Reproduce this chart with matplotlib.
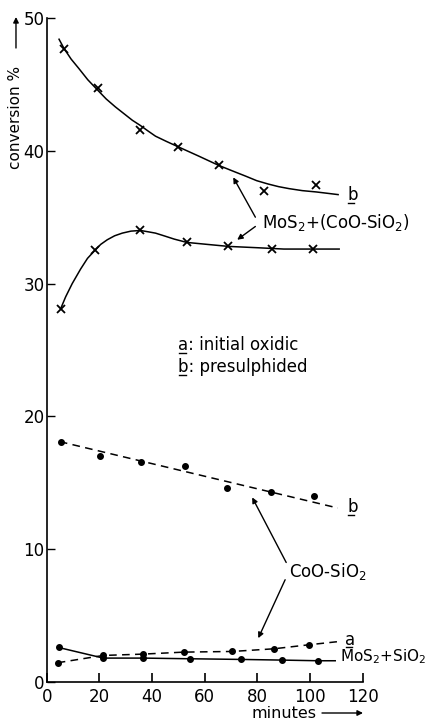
import matplotlib
matplotlib.use('Agg')
import matplotlib.pyplot as plt

plt.rcParams['font.family'] = ['DejaVu Sans']
plt.rcParams['mathtext.fontset'] = 'dejavusans'

# Data (minutes, conversion %)
# MoS2+(CoO-SiO2), presulphided (b)
t_mix_b = [6.6, 19.4, 35.6, 49.9, 65.3, 82.6, 102.3]
conv_mix_b = [47.7, 44.7, 41.6, 40.3, 38.9, 37.0, 37.4]
curve_t_mix_b = [4.7, 6.6, 9.3, 12.2, 15.6, 19.2, 22.6, 26.1, 29.3, 32.5, 35.6,
                 38.4, 41.3, 45.5, 49.9, 53.8, 57.7, 61.5, 65.3, 70.3, 75.4,
                 79.7, 84.0, 88.0, 92.0, 97.0, 102.3, 106.5, 110.6]
curve_mix_b = [48.4, 47.7, 46.9, 46.2, 45.35, 44.6, 43.9, 43.3, 42.8, 42.3, 41.9,
               41.5, 41.1, 40.7, 40.3, 39.95, 39.6, 39.25, 38.9, 38.5, 38.1,
               37.75, 37.5, 37.3, 37.15, 37.0, 36.9, 36.8, 36.7]

# MoS2+(CoO-SiO2), initial oxidic (a)
t_mix_a = [5.3, 18.3, 35.6, 53.2, 69.0, 85.7, 101.2]
conv_mix_a = [28.1, 32.5, 34.0, 33.1, 32.8, 32.6, 32.6]
curve_t_mix_a = [5.3, 7.2, 9.7, 12.9, 15.5, 18.3, 20.5, 23.0, 25.8, 28.7, 32.0,
                 35.6, 38.5, 41.3, 44.5, 48.4, 53.2, 61.0, 69.0, 80.0, 90.0,
                 101.0, 111.0]
curve_mix_a = [28.1, 29.0, 30.0, 31.1, 31.9, 32.5, 32.95, 33.3, 33.6, 33.8, 33.95,
               34.0, 33.9, 33.8, 33.6, 33.35, 33.1, 32.95, 32.8, 32.7, 32.6,
               32.6, 32.6]

# CoO-SiO2, presulphided (b)
t_coo_b = [5.3, 20.3, 35.8, 52.5, 68.3, 85.0, 101.5]
conv_coo_b = [18.1, 17.0, 16.6, 16.3, 14.6, 14.3, 14.0]
line_t_coo_b = [5.0, 110.5]
line_coo_b = [18.1, 13.1]

# CoO-SiO2, initial oxidic (a)
t_coo_a = [4.2, 21.5, 36.6, 52.0, 70.5, 86.2, 99.4]
conv_coo_a = [1.45, 2.0, 2.1, 2.25, 2.3, 2.5, 2.8]
line_t_coo_a = t_coo_a + [111.0]
line_coo_a = conv_coo_a + [3.05]

# MoS2+SiO2
t_mos = [4.5, 21.5, 36.6, 54.3, 73.6, 89.3, 103.0]
conv_mos = [2.6, 1.8, 1.8, 1.75, 1.7, 1.65, 1.6]
line_t_mos = t_mos + [109.5]
line_mos = conv_mos + [1.6]

x_ticks = [0, 20, 40, 60, 80, 100, 120]
y_ticks = [0, 10, 20, 30, 40, 50]

fig = plt.figure(figsize=(4.32, 7.22), dpi=100)
ax = fig.add_axes([0.108, 0.0554, 0.732, 0.9197])

lw = 1.1
ax.plot(curve_t_mix_b, curve_mix_b, color='k', lw=lw)
ax.plot(t_mix_b, conv_mix_b, 'x', color='k', ms=6, mew=1.3)
ax.plot(curve_t_mix_a, curve_mix_a, color='k', lw=lw)
ax.plot(t_mix_a, conv_mix_a, 'x', color='k', ms=6, mew=1.3)

ax.plot(line_t_coo_b, line_coo_b, color='k', lw=lw, ls=(0, (5, 3.5)))
ax.plot(t_coo_b, conv_coo_b, 'o', color='k', ms=4)
ax.plot(line_t_coo_a, line_coo_a, color='k', lw=lw, ls=(0, (5, 3.5)))
ax.plot(t_coo_a, conv_coo_a, 'o', color='k', ms=4)
ax.plot(line_t_mos, line_mos, color='k', lw=lw)
ax.plot(t_mos, conv_mos, 'o', color='k', ms=4)

ax.set_xlim(0, 120)
ax.set_ylim(0, 50)
ax.set_xticks(x_ticks)
ax.set_yticks(y_ticks)
ax.spines['top'].set_visible(False)
ax.spines['right'].set_visible(False)
ax.spines['left'].set_linewidth(1.2)
ax.spines['bottom'].set_linewidth(1.2)
ax.tick_params(axis='x', direction='in', length=6.5, width=1.2, pad=4, labelsize=12)
ax.tick_params(axis='y', direction='in', length=6, width=1.0, pad=1.5, labelsize=12)

fs = 12


def underlined(x, y, s):
    # text whose first letter is underlined (a / b series tags)
    ax.text(x, y, s, fontsize=fs, va='center')
    ax.plot([x + 0.2, x + 2.7], [y - 0.6, y - 0.6], color='k', lw=1.0, clip_on=False)


# Labels and annotations
underlined(114, 36.7, 'b')
ax.text(81.8, 34.6, r'MoS$_2$+(CoO-SiO$_2$)', fontsize=fs, va='center')
arrow = dict(arrowstyle='-|>', lw=1.0, color='k', mutation_scale=8, shrinkA=0, shrinkB=0)
ax.annotate('', xy=(70.8, 38.0), xytext=(79.2, 35.0), arrowprops=arrow)
ax.annotate('', xy=(72.3, 33.3), xytext=(79.2, 34.3), arrowprops=arrow)

underlined(50, 25.4, 'a: initial oxidic')
underlined(50, 23.7, 'b: presulphided')

underlined(114, 13.2, 'b')
ax.text(92, 8.3, r'CoO-SiO$_2$', fontsize=fs, va='center')
ax.annotate('', xy=(78.0, 13.9), xytext=(90.9, 9.0), arrowprops=arrow)
ax.annotate('', xy=(80.3, 3.3), xytext=(90.5, 7.7), arrowprops=arrow)

underlined(113.3, 3.2, 'a')
ax.text(111.4, 1.9, r'MoS$_2$+SiO$_2$', fontsize=11, va='center')

# Axis titles with arrows
fig.text(0.037, 0.838, 'conversion %', rotation=90, fontsize=11, ha='center', va='center')
ax.annotate('', xy=(0.037, 1 - 17 / 722), xytext=(0.037, 1 - 48 / 722),
            xycoords='figure fraction', textcoords='figure fraction', arrowprops=arrow)
fig.text(0.657, 1 - 713 / 722, 'minutes', fontsize=11.5, ha='center', va='center')
ax.annotate('', xy=(363 / 432, 1 - 713 / 722), xytext=(322 / 432, 1 - 713 / 722),
            xycoords='figure fraction', textcoords='figure fraction', arrowprops=arrow)

plt.savefig('out.png', dpi=100)
